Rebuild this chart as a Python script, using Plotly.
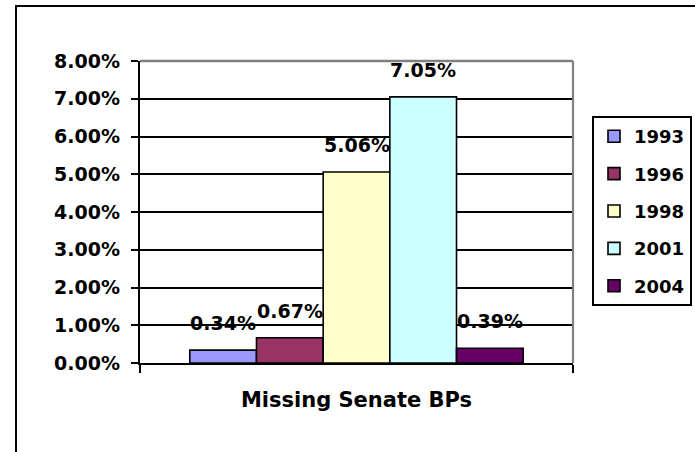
import plotly.graph_objects as go

category = ["Missing Senate BPs"]
years = ["1993", "1996", "1998", "2001", "2004"]
values = [0.34, 0.67, 5.06, 7.05, 0.39]  # percent
colors = ["#9999FF", "#993366", "#FFFFCC", "#CCFFFF", "#660066"]
y_ticks = [0, 1, 2, 3, 4, 5, 6, 7, 8]

W, H = 695, 452
L, T = 140, 61
R = W - 573
B = H - 363
pw, ph = W - L - R, H - T - B
bargap = 0.23

FONT = dict(family="DejaVu Sans", size=19, color="black", weight="bold")
XFONT = dict(family="DejaVu Sans", size=21, color="black", weight="bold")
LFONT = dict(family="DejaVu Sans", size=18, color="black", weight="bold")

fig = go.Figure()
for i, (yr, v, c) in enumerate(zip(years, values, colors)):
    fig.add_trace(go.Bar(
        name=yr, x=category, y=[v], legendgroup=yr,
        marker=dict(color=c, line=dict(color="black", width=1.6)),
        hoverinfo="skip",
    ))

# data labels above bars
n = len(years)
bw = (1 - bargap) / n
annotations = []
for i, v in enumerate(values):
    xc = -(1 - bargap) / 2 + (i + 0.5) * bw
    annotations.append(dict(
        x=xc, y=v, xref="x", yref="y", text=f"{v:.2f}%",
        showarrow=False, yanchor="middle", yshift=27, font=FONT,
    ))

def px_x(p):
    return (p - L) / pw

def px_y(p):
    return (H - B - p) / ph

shapes = [
    # outer chart border (cropped at right/bottom)
    dict(type="rect", xref="paper", yref="paper",
         x0=px_x(16), x1=px_x(720), y0=px_y(480), y1=px_y(6),
         line=dict(color="black", width=2), layer="above"),
    # plot area top and right borders (gray)
    dict(type="line", xref="paper", yref="paper", x0=0, x1=1, y0=1, y1=1,
         line=dict(color="#808080", width=2.6), layer="above"),
    dict(type="line", xref="paper", yref="paper", x0=1, x1=1, y0=0, y1=1,
         line=dict(color="#808080", width=2.2), layer="above"),
]

fig.update_layout(
    width=W, height=H,
    margin=dict(l=L, r=R, t=T, b=B, autoexpand=False),
    paper_bgcolor="white", plot_bgcolor="white",
    font=FONT,
    barmode="group", bargap=bargap, bargroupgap=0,
    showlegend=True,
    legend=dict(
        x=px_x(592), y=px_y(116), xanchor="left", yanchor="top",
        bordercolor="black", borderwidth=2, bgcolor="white",
        font=LFONT, traceorder="grouped", tracegroupgap=11,
        itemclick=False, itemdoubleclick=False,
    ),
    annotations=annotations,
    shapes=shapes,
)
fig.update_xaxes(
    showline=True, linecolor="black", linewidth=2,
    ticks="outside", tickson="boundaries", ticklen=8, tickwidth=2, tickcolor="black",
    ticklabelstandoff=17, showgrid=False, automargin=False, tickfont=XFONT,
)
fig.update_yaxes(
    range=[0, 8], tickvals=y_ticks,
    ticktext=[f"{t:.2f}%" for t in y_ticks],
    showline=True, linecolor="black", linewidth=2.4,
    ticks="outside", ticklen=7, tickwidth=2, tickcolor="black",
    showgrid=True, gridcolor="black", gridwidth=2,
    zeroline=False, ticklabelstandoff=7, automargin=False,
)

fig.write_html(
    "out.html",
    config={"displayModeBar": False},
    post_script="document.body.style.margin='0';document.body.style.overflow='hidden';",
)
